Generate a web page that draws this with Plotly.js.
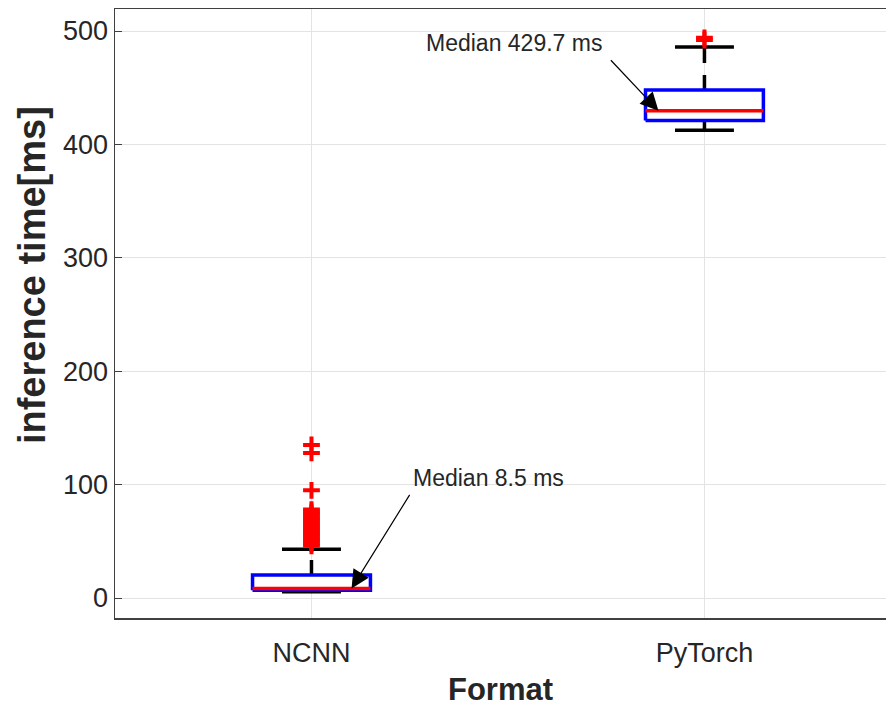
<!DOCTYPE html>
<html>
<head>
<meta charset="utf-8">
<script src="https://cdn.plot.ly/plotly-3.0.1.min.js"></script>
<style>html,body{margin:0;padding:0;overflow:hidden;background:#fff;}</style>
</head>
<body>
<div id="chart" style="width:886px;height:707px;"></div>
<script>
// ---- data ----
const categories = ['NCNN', 'PyTorch'];
const positions = [1, 2];
const q1 = [6.8, 421.0];
const medians = [8.5, 429.7];
const q3 = [20.3, 448.0];
const lowerWhisker = [5.5, 412.5];
const upperWhisker = [43.0, 486.0];
const outliersNCNN = [135, 128, 95, 78, 76, 74, 72, 70, 68, 66, 64, 62, 60, 58, 56, 54, 52, 50, 48, 46];
const outliersPyTorch = [494, 492];
const medianLabels = ['Median 8.5 ms', 'Median 429.7 ms'];
const yTicks = [0, 100, 200, 300, 400, 500];
const xTitle = 'Format';
const yTitle = 'inference time[ms]';

const boxHalf = 0.15, capHalf = 0.075;
const traces = [];
positions.forEach((p, i) => {
  // whiskers
  traces.push({x: [p, p], y: [q3[i], upperWhisker[i]], mode: 'lines', type: 'scatter',
    line: {color: '#000', width: 3.5, dash: '15px,12px'}, hoverinfo: 'skip', showlegend: false});
  traces.push({x: [p, p], y: [q1[i], lowerWhisker[i]], mode: 'lines', type: 'scatter',
    line: {color: '#000', width: 3.5, dash: '15px,12px'}, hoverinfo: 'skip', showlegend: false});
  // caps
  traces.push({x: [p - capHalf, p + capHalf], y: [upperWhisker[i], upperWhisker[i]], mode: 'lines', type: 'scatter',
    line: {color: '#000', width: 3.5}, hoverinfo: 'skip', showlegend: false});
  traces.push({x: [p - capHalf, p + capHalf], y: [lowerWhisker[i], lowerWhisker[i]], mode: 'lines', type: 'scatter',
    line: {color: '#000', width: 3.5}, hoverinfo: 'skip', showlegend: false});
  // box
  traces.push({x: [p - boxHalf, p + boxHalf, p + boxHalf, p - boxHalf, p - boxHalf],
    y: [q1[i], q1[i], q3[i], q3[i], q1[i]], mode: 'lines', type: 'scatter',
    line: {color: '#0000ff', width: 3.5}, fill: 'toself', fillcolor: 'rgba(255,255,255,1)',
    hoverinfo: 'skip', showlegend: false});
  // median
  traces.push({x: [p - boxHalf, p + boxHalf], y: [medians[i], medians[i]], mode: 'lines', type: 'scatter',
    line: {color: '#ff0000', width: 3.5}, hoverinfo: 'skip', showlegend: false});
});
// outliers
const outs = [outliersNCNN, outliersPyTorch];
outs.forEach((arr, i) => {
  traces.push({x: arr.map(() => positions[i]), y: arr, mode: 'markers', type: 'scatter',
    marker: {symbol: 'cross-thin-open', size: 12, color: '#ff0000', line: {color: '#ff0000', width: 4}},
    hoverinfo: 'skip', showlegend: false});
});

const font = "Liberation Sans, Arial, Helvetica, sans-serif";
const annotations = [
  // arrows
  {x: positions[0] + 0.102, y: medians[0], xref: 'x', yref: 'y', text: '', showarrow: true,
   ax: 59, ay: -95, arrowhead: 2, arrowsize: 3, arrowwidth: 1.2, arrowcolor: '#000'},
  {x: positions[1] - 0.117, y: medians[1], xref: 'x', yref: 'y', text: '', showarrow: true,
   ax: -49, ay: -52, arrowhead: 2, arrowsize: 3, arrowwidth: 1.2, arrowcolor: '#000'},
  // labels
  {x: positions[0] + 0.254, y: 105.8, xref: 'x', yref: 'y', text: medianLabels[0], showarrow: false,
   xanchor: 'left', yanchor: 'middle', font: {family: font, size: 23, color: '#262626'}},
  {x: positions[1] - 0.7125, y: 489.4, xref: 'x', yref: 'y', text: medianLabels[1], showarrow: false,
   xanchor: 'left', yanchor: 'middle', font: {family: font, size: 23, color: '#262626'}},
  // y-axis title
  {x: -0.1077, y: 0.563, xref: 'paper', yref: 'paper', text: '<b>' + yTitle + '</b>', showarrow: false,
   textangle: -90, xanchor: 'center', yanchor: 'middle', font: {family: font, size: 38, color: '#262626'}}
];

const layout = {
  width: 886, height: 707,
  margin: {l: 115, r: 0, t: 9, b: 89},
  paper_bgcolor: '#fff', plot_bgcolor: '#fff',
  font: {family: font, color: '#262626'},
  xaxis: {
    range: [0.5, 2.462], tickvals: positions, ticktext: categories,
    showgrid: true, gridcolor: '#e3e3e3', gridwidth: 1,
    showline: true, linecolor: '#404040', linewidth: 1.5, mirror: true,
    ticks: '', zeroline: false, ticklabelstandoff: 10,
    tickfont: {family: font, size: 27, color: '#262626'},
    title: {text: '<b>' + xTitle + '</b>', font: {family: font, size: 31, color: '#262626'}, standoff: 12}
  },
  yaxis: {
    range: [-17.6, 519.4], tickvals: yTicks,
    showgrid: true, gridcolor: '#e3e3e3', gridwidth: 1,
    showline: true, linecolor: '#404040', linewidth: 1.5, mirror: false,
    ticks: 'inside', ticklen: 7, tickcolor: '#404040', zeroline: false,
    tickfont: {family: font, size: 27, color: '#262626'}
  },
  annotations: annotations
};

Plotly.newPlot('chart', traces, layout, {displayModeBar: false, staticPlot: true});
</script>
</body>
</html>
